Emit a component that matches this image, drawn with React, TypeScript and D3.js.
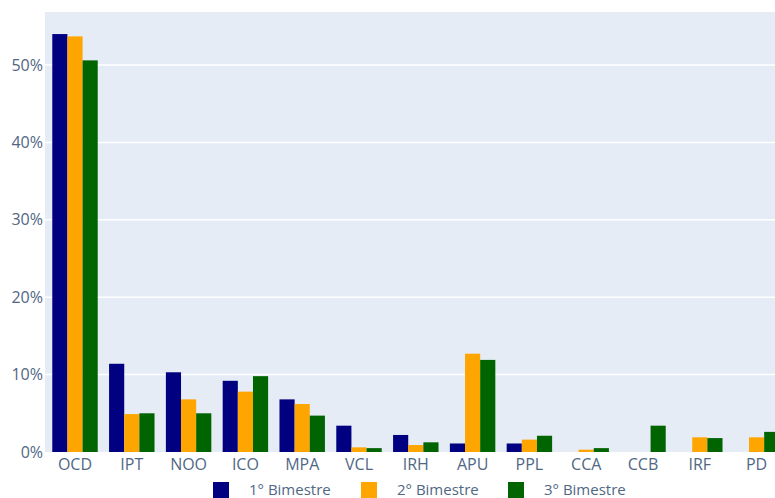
import React from "react";
import * as d3 from "d3";

const categories = ["OCD", "IPT", "NOO", "ICO", "MPA", "VCL", "IRH", "APU", "PPL", "CCA", "CCB", "IRF", "PD"];
const seriesNames = ["1° Bimestre", "2° Bimestre", "3° Bimestre"];
const bim1 = [54.0, 11.4, 10.3, 9.2, 6.8, 3.4, 2.2, 1.1, 1.1, 0, 0, 0, 0];
const bim2 = [53.7, 4.9, 6.8, 7.8, 6.2, 0.6, 0.9, 12.7, 1.6, 0.3, 0, 1.9, 1.9];
const bim3 = [50.6, 5.0, 5.0, 9.8, 4.7, 0.5, 1.25, 11.9, 2.1, 0.5, 3.4, 1.8, 2.6];
const seriesColors = ["#000080", "#FFA500", "#006400"];
const yTicks = [0, 10, 20, 30, 40, 50];

const W = 775;
const H = 498;
const left = 46.6;
const bandW = 56.8;
const right = left + bandW * categories.length;
const top = 12;
const bottom = 452;
const font = "'Open Sans', 'Noto Sans', sans-serif";

export default function App() {
  const series = [bim1, bim2, bim3];
  const x = d3.scaleBand<string>().domain(categories).range([left, right]).paddingInner(0.2).paddingOuter(0.1);
  const xs = d3.scaleBand<number>().domain([0, 1, 2]).range([0, x.bandwidth()]);
  const y = d3.scaleLinear().domain([0, 56.85]).range([bottom, top]);
  const legendX = [213, 361, 508];
  return (
    <svg width={W} height={H} style={{ position: "absolute", left: 0, top: 0, background: "#fff" }}>
      <rect x={45} y={top} width={W - 45} height={bottom - top} fill="#E5ECF6" />
      {yTicks.filter((t) => t > 0).map((t) => (
        <line key={t} x1={45} x2={W} y1={y(t)} y2={y(t)} stroke="#fff" strokeWidth={1.5} />
      ))}
      {series.map((vals, si) =>
        vals.map((v, ci) => (
          <rect
            key={`${si}-${ci}`}
            x={(x(categories[ci]) ?? 0) + (xs(si) ?? 0)}
            y={y(v)}
            width={xs.bandwidth()}
            height={bottom - y(v)}
            fill={seriesColors[si]}
          />
        ))
      )}
      {yTicks.map((t) => (
        <text key={t} x={43} y={y(t)} dy="0.35em" textAnchor="end" fontFamily={font} fontSize={16} fill="#506784">
          {`${t}%`}
        </text>
      ))}
      {categories.map((c) => (
        <text key={c} x={(x(c) ?? 0) + x.bandwidth() / 2} y={470} textAnchor="middle" fontFamily={font} fontSize={16} fill="#506784">
          {c}
        </text>
      ))}
      {seriesNames.map((n, i) => (
        <g key={n}>
          <rect x={legendX[i]} y={482} width={16} height={16} fill={seriesColors[i]} />
          <text x={legendX[i] + 36} y={495} fontFamily={font} fontSize={15} fill="#506784">
            {n}
          </text>
        </g>
      ))}
    </svg>
  );
}
